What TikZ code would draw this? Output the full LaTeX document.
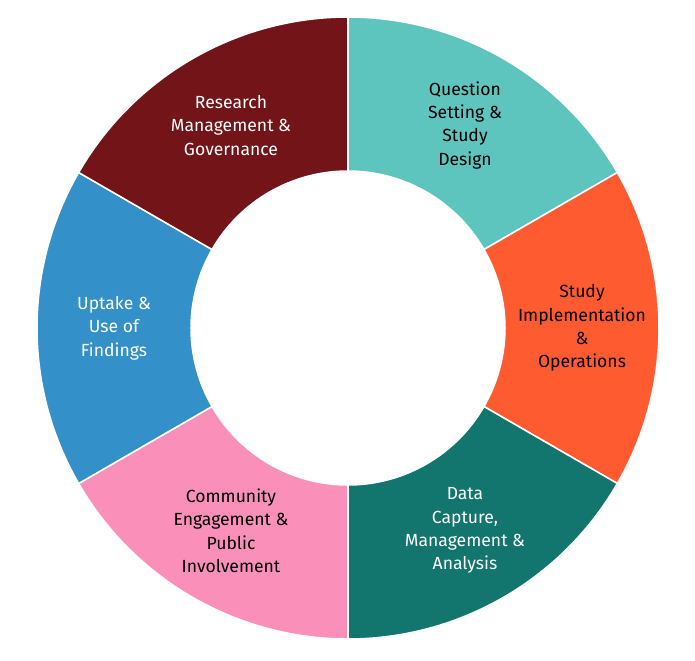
\documentclass[tikz,border=0pt]{standalone}
\usepackage{fontspec}
\setmainfont{Fira Sans}
\usetikzlibrary{positioning}
\definecolor{c1}{HTML}{5EC4BE}
\definecolor{c2}{HTML}{FF5B30}
\definecolor{c3}{HTML}{12756E}
\definecolor{c4}{HTML}{FA8FBA}
\definecolor{c5}{HTML}{3390C8}
\definecolor{c6}{HTML}{731518}
\newcommand{\Ra}{311}
\newcommand{\Ri}{157}
\newcommand{\Rm}{234}

\begin{document}
\begin{tikzpicture}[
  x=0.03cm, y=0.03cm,
  seg/.style={draw=white, line width=1.3pt},
  lbl/.style={align=center, inner sep=0pt,
              font=\fontsize{15}{19.9}\selectfont}
]
\useasboundingbox (-348,-332) rectangle (347,328);

% ---------- Ring segments ----------------------------------------
\filldraw[seg, fill=c1] (30:\Ra) arc[start angle=30, end angle=90, radius=\Ra]
  -- (90:\Ri) arc[start angle=90, end angle=30, radius=\Ri] -- cycle;
\filldraw[seg, fill=c2] (-30:\Ra) arc[start angle=-30, end angle=30, radius=\Ra]
  -- (30:\Ri) arc[start angle=30, end angle=-30, radius=\Ri] -- cycle;
\filldraw[seg, fill=c3] (-90:\Ra) arc[start angle=-90, end angle=-30, radius=\Ra]
  -- (-30:\Ri) arc[start angle=-30, end angle=-90, radius=\Ri] -- cycle;
\filldraw[seg, fill=c4] (210:\Ra) arc[start angle=210, end angle=270, radius=\Ra]
  -- (270:\Ri) arc[start angle=270, end angle=210, radius=\Ri] -- cycle;
\filldraw[seg, fill=c5] (150:\Ra) arc[start angle=150, end angle=210, radius=\Ra]
  -- (210:\Ri) arc[start angle=210, end angle=150, radius=\Ri] -- cycle;
\filldraw[seg, fill=c6] (90:\Ra) arc[start angle=90, end angle=150, radius=\Ra]
  -- (150:\Ri) arc[start angle=150, end angle=90, radius=\Ri] -- cycle;

% ---------- Labels -----------------------------------------------
\node[lbl, text=black] (question) at (60:\Rm)
  {Question\\Setting \&\\Study\\Design};
\node[lbl, text=black] (implement) at (0:\Rm)
  {Study\\Implementation\\\&\\Operations};
\node[lbl, text=white] (data) at (-60:\Rm)
  {Data\\Capture,\\Management \&\\Analysis};
\node[lbl, text=black] (community) at (240:\Rm)
  {Community\\Engagement \&\\Public\\Involvement};
\node[lbl, text=white] (uptake) at (180:\Rm)
  {Uptake \&\\Use of\\Findings};
\node[lbl, text=white] (research) at (120:\Rm)
  {Research\\Management \&\\Governance};

\end{tikzpicture}
\end{document}
